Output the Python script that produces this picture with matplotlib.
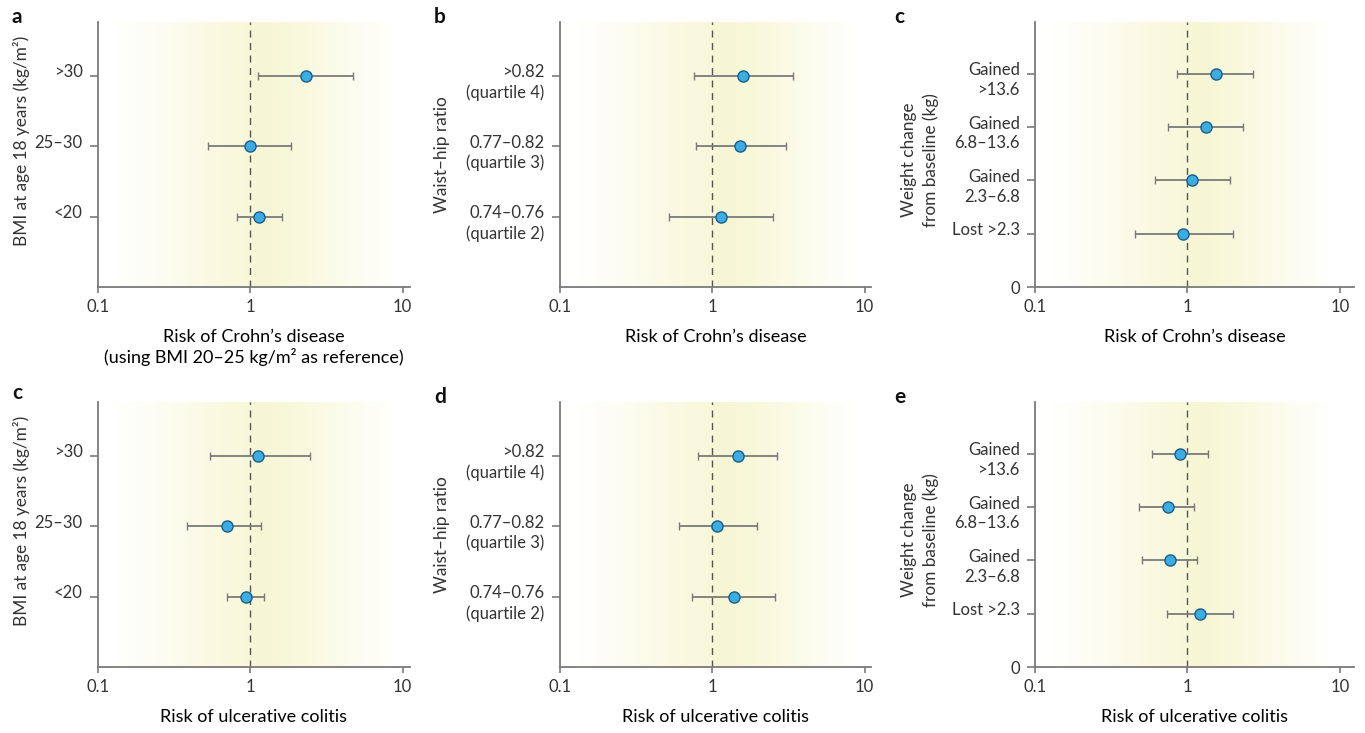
import numpy as np
import matplotlib
matplotlib.use('Agg')
import matplotlib.pyplot as plt
from matplotlib.colors import LinearSegmentedColormap

plt.rcParams['font.family'] = ['Lato', 'DejaVu Sans']
plt.rcParams['font.size'] = 12
plt.rcParams['text.color'] = '#333333'

# ---- data (odds ratios with 95% CI) ----
bmi_labels = ['>30', '25–30', '<20']
whr_labels = ['>0.82\n(quartile 4)', '0.77–0.82\n(quartile 3)', '0.74–0.76\n(quartile 2)']
wt_labels = ['Gained\n>13.6', 'Gained\n6.8–13.6', 'Gained\n2.3–6.8', 'Lost >2.3']

cd_bmi = [2.33, 1.00, 1.14]
cd_bmi_lo = [1.13, 0.525, 0.82]
cd_bmi_hi = [4.71, 1.86, 1.61]

cd_whr = [1.58, 1.53, 1.14]
cd_whr_lo = [0.76, 0.78, 0.52]
cd_whr_hi = [3.37, 3.06, 2.49]

cd_wt = [1.54, 1.32, 1.07, 0.93]
cd_wt_lo = [0.86, 0.75, 0.61, 0.455]
cd_wt_hi = [2.70, 2.33, 1.89, 2.00]

uc_bmi = [1.12, 0.70, 0.94]
uc_bmi_lo = [0.54, 0.386, 0.70]
uc_bmi_hi = [2.46, 1.18, 1.23]

uc_whr = [1.48, 1.08, 1.39]
uc_whr_lo = [0.80, 0.60, 0.74]
uc_whr_hi = [2.65, 1.97, 2.58]

uc_wt = [0.90, 0.75, 0.77, 1.21]
uc_wt_lo = [0.59, 0.48, 0.505, 0.74]
uc_wt_hi = [1.37, 1.11, 1.16, 1.99]

grey = '#7a7a7a'
TICK_FS = 12
bg_cmap = LinearSegmentedColormap.from_list('bg', ['#ffffff', '#f6f6d4'])


def background(ax, xmax, ytop):
    # pale yellow glow peaking just right of 1, fading out to both sides
    t = np.linspace(-1, np.log10(xmax), 500)
    pts_t = [-1.0, -0.95, -0.6, -0.3, 0.0, 0.07, 0.3, 0.6, 0.9, 0.95]
    pts_a = [0.0, 0.0, 0.3, 0.62, 0.88, 1.0, 0.82, 0.45, 0.1, 0.0]
    a = np.interp(0.5 * (t[1:] + t[:-1]), pts_t, pts_a)
    ax.pcolormesh(10 ** t, [0, ytop], a[np.newaxis, :], cmap=bg_cmap,
                  vmin=0, vmax=1, shading='flat', zorder=0, rasterized=True)


def forest(ax, labels, est, lo, hi, ytop, xmax, xlabel, zero_tick=False):
    n = len(labels)
    ypos = np.arange(n, 0, -1)
    est = np.array(est)
    err = [est - np.array(lo), np.array(hi) - est]
    background(ax, xmax, ytop)
    ax.axvline(1, color='#555555', lw=1.0, ls=(0, (5, 4)), zorder=1)
    ax.errorbar(est, ypos, xerr=err, fmt='o', color=grey, ecolor=grey,
                elinewidth=1.3, capsize=3.2, capthick=1.2,
                markerfacecolor='#3aaee2', markeredgecolor='#1d5d86',
                markeredgewidth=1.0, markersize=8, zorder=3)
    ax.set_xscale('log')
    ax.set_xlim(0.1, xmax)
    ax.set_ylim(0, ytop)
    ax.set_xticks([0.1, 1, 10])
    ax.set_xticklabels(['0.1', '1', '10'])
    ax.minorticks_off()
    if zero_tick:
        ax.set_yticks([0] + list(ypos))
        ax.set_yticklabels(['0'] + [''] * n)
    else:
        ax.set_yticks(ypos)
        ax.set_yticklabels([''] * n)
    for y, lab in zip(ypos, labels):
        ax.annotate(lab, xy=(0, y), xycoords=('axes fraction', 'data'),
                    xytext=(-11, 8.3), textcoords='offset points',
                    ha='right', va='top', linespacing=1.3, fontsize=TICK_FS,
                    color='#333333', annotation_clip=False)
    for s in ['top', 'right']:
        ax.spines[s].set_visible(False)
    for s in ['left', 'bottom']:
        ax.spines[s].set_color(grey)
        ax.spines[s].set_linewidth(1.3)
    ax.tick_params(axis='y', length=6, width=1.2, color=grey, pad=5,
                   labelcolor='#333333', labelsize=TICK_FS)
    ax.tick_params(axis='x', length=4, width=1.2, color=grey, pad=5,
                   labelcolor='#333333', labelsize=TICK_FS)
    ax.set_xlabel(xlabel, fontsize=13, labelpad=10, linespacing=1.15)


fig = plt.figure(figsize=(13.65, 7.33), dpi=100)
W, H = 1365.0, 733.0


def add_ax(x0, x1, ytop, ybot):
    return fig.add_axes([x0 / W, 1 - ybot / H, (x1 - x0) / W, (ybot - ytop) / H])


ax1 = add_ax(98, 410, 22, 287)
ax2 = add_ax(560, 871, 22, 287)
ax3 = add_ax(1035, 1354, 22, 287)
ax4 = add_ax(98, 410, 402, 667)
ax5 = add_ax(560, 871, 402, 667)
ax6 = add_ax(1035, 1354, 402, 667)

forest(ax1, bmi_labels, cd_bmi, cd_bmi_lo, cd_bmi_hi, 3.76, 11.2,
       'Risk of Crohn’s disease\n(using BMI 20–25 kg/m² as reference)')
forest(ax2, whr_labels, cd_whr, cd_whr_lo, cd_whr_hi, 3.76, 11.0,
       'Risk of Crohn’s disease')
forest(ax3, wt_labels, cd_wt, cd_wt_lo, cd_wt_hi, 4.97, 12.4,
       'Risk of Crohn’s disease', zero_tick=True)
forest(ax4, bmi_labels, uc_bmi, uc_bmi_lo, uc_bmi_hi, 3.76, 11.2,
       'Risk of ulcerative colitis')
forest(ax5, whr_labels, uc_whr, uc_whr_lo, uc_whr_hi, 3.76, 11.0,
       'Risk of ulcerative colitis')
forest(ax6, wt_labels, uc_wt, uc_wt_lo, uc_wt_hi, 4.97, 12.4,
       'Risk of ulcerative colitis', zero_tick=True)

# y axis titles
ylab_kw = dict(rotation=90, ha='center', va='center', fontsize=12.4)
fig.text(22 / W, 1 - 141 / H, 'BMI at age 18 years (kg/m²)', **ylab_kw)
fig.text(22 / W, 1 - 521 / H, 'BMI at age 18 years (kg/m²)', **ylab_kw)
fig.text(442 / W, 1 - 155 / H, 'Waist–hip ratio', **ylab_kw)
fig.text(442 / W, 1 - 535 / H, 'Waist–hip ratio', **ylab_kw)
fig.text(920 / W, 1 - 160 / H, 'Weight change\nfrom baseline (kg)', linespacing=1.4, **ylab_kw)
fig.text(920 / W, 1 - 540 / H, 'Weight change\nfrom baseline (kg)', linespacing=1.4, **ylab_kw)

# panel letters
for lx, ly, letter in [(12, 17, 'a'), (434, 17, 'b'), (894, 17, 'c'),
                       (12, 393, 'c'), (434, 397, 'd'), (894, 397, 'e')]:
    fig.text(lx / W, 1 - ly / H, letter, fontsize=15, fontweight='bold',
             ha='left', va='center', color='#111111')

fig.savefig('out.png', dpi=100)
